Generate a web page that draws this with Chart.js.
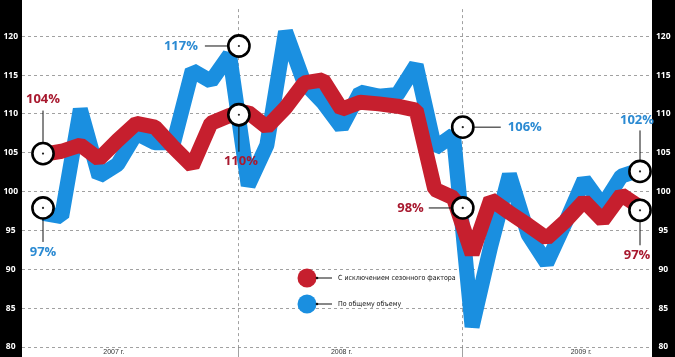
<!DOCTYPE html>
<html><head><meta charset="utf-8">
<script src="https://cdn.jsdelivr.net/npm/chart.js@4.4.1/dist/chart.umd.min.js"></script>
<style>html,body{margin:0;padding:0;background:#fff;}#wrap{width:675px;height:357px;}</style>
</head><body><div id="wrap"><canvas id="c" width="675" height="357"></canvas></div>
<script>
// Months Feb 2007 .. Oct 2009
const months = ['02.2007','03.2007','04.2007','05.2007','06.2007','07.2007','08.2007','09.2007','10.2007','11.2007','12.2007',
  '01.2008','02.2008','03.2008','04.2008','05.2008','06.2008','07.2008','08.2008','09.2008','10.2008','11.2008','12.2008',
  '01.2009','02.2009','03.2009','04.2009','05.2009','06.2009','07.2009','08.2009','09.2009','10.2009'];
const seasonalAdj = [104.8,105.2,106.0,104.2,106.6,108.8,108.3,105.7,103.3,108.8,109.8,
  110.2,108.3,110.8,114.0,114.4,110.6,111.5,111.3,111.0,110.5,100.3,99.2,
  92.0,99.0,97.3,95.7,94.0,96.2,98.8,96.3,99.6,98.0];
const totalVolume = [97.2,96.8,110.6,102.0,103.5,107.5,106.3,106.3,115.6,114.2,117.6,
  100.8,106.0,120.6,114.0,111.5,108.3,112.8,112.3,112.5,116.3,105.6,107.3,
  82.6,93.0,102.2,94.5,90.8,96.0,101.5,98.2,102.0,102.8];
const seriesNames = ['С исключением сезонного фактора','По общему объему'];
const yTicks = [80,85,90,95,100,105,110,115,120];
const yearLabels = ['2007 г.','2008 г.','2009 г.'];
const yearLabelPos = [3.8,16,28.85];
const yearDividers = [10.5,22.5];
// callouts: position in data units (month index, value)
const calloutText  = ['104%','97%','117%','110%','106%','98%','102%','97%'];
const calloutSeries= [0,1,1,0,1,0,1,0];
const calloutIndex = [0,0,10.5,10.5,22.5,22.5,32,32];
const calloutValue = [104.9,97.9,118.75,109.9,108.3,97.9,102.6,97.6];

const RED = '#c61f2e', BLUE = '#1a8fe0';
const LABEL_COL = ['#a8192f','#2b8ad2'];
// style of each callout: leader end (ex,ey) and text anchor (tx,ty,align)
const calloutStyle = [
  {ex:0,ey:-43,tx:0,ty:-54,align:'center'},
  {ex:0,ey:34,tx:0,ty:44,align:'center'},
  {ex:-34,ey:0,tx:-41,ty:0,align:'right'},
  {ex:0,ey:37,tx:2,ty:47,align:'center'},
  {ex:38,ey:0,tx:45,ty:0,align:'left'},
  {ex:-34,ey:0,tx:-39,ty:0,align:'right'},
  {ex:0,ey:-41,tx:-3,ty:-51,align:'center'},
  {ex:0,ey:35,tx:-3,ty:45,align:'center'}
];

const xTickPos = [...yearLabelPos, ...yearDividers].sort((a,b)=>a-b);
const xTickLabel = xTickPos.map(v => { const k = yearLabelPos.indexOf(v); return k >= 0 ? yearLabels[k] : ''; });

const bandPlugin = {
  id: 'bands',
  beforeDraw(chart) {
    const {ctx} = chart;
    ctx.save();
    ctx.fillStyle = '#000';
    ['y','y2'].forEach(id => { const s = chart.scales[id]; ctx.fillRect(s.left, 0, s.right - s.left, chart.height); });
    ctx.restore();
  }
};

const calloutPlugin = {
  id: 'callouts',
  afterDatasetsDraw(chart) {
    const {ctx, scales:{x, y}} = chart;
    ctx.save();
    const R = 10.6;
    calloutText.forEach((t, i) => {
      const cx = x.getPixelForValue(calloutIndex[i]);
      const cy = y.getPixelForValue(calloutValue[i]);
      const st = calloutStyle[i];
      ctx.strokeStyle = '#111'; ctx.lineWidth = 1;
      ctx.beginPath(); ctx.moveTo(cx, cy); ctx.lineTo(cx + st.ex, cy + st.ey); ctx.stroke();
      ctx.beginPath(); ctx.arc(cx, cy, R, 0, Math.PI * 2);
      ctx.fillStyle = '#fff'; ctx.fill();
      ctx.lineWidth = 2.6; ctx.strokeStyle = '#000'; ctx.stroke();
      ctx.fillStyle = '#222'; ctx.beginPath(); ctx.arc(cx, cy, 1.1, 0, Math.PI * 2); ctx.fill();
      ctx.font = 'bold 13px "Open Sans"';
      ctx.fillStyle = LABEL_COL[calloutSeries[i]];
      ctx.textAlign = st.align; ctx.textBaseline = 'middle';
      ctx.fillText(t, cx + st.tx, cy + st.ty);
    });
    ctx.restore();
  }
};

const legendPlugin = {
  id: 'customLegend',
  afterDatasetsDraw(chart) {
    const {ctx} = chart;
    ctx.save();
    chart.data.datasets.forEach((ds, i) => {
      const cx = 307, cy = 278 + i * 26;
      ctx.fillStyle = ds.borderColor;
      ctx.beginPath(); ctx.arc(cx, cy, 9.5, 0, Math.PI * 2); ctx.fill();
      ctx.strokeStyle = '#111'; ctx.lineWidth = 1;
      ctx.beginPath(); ctx.moveTo(cx + 10, cy); ctx.lineTo(cx + 25, cy); ctx.stroke();
      ctx.fillStyle = '#111'; ctx.beginPath(); ctx.arc(cx + 10, cy, 1.3, 0, Math.PI * 2); ctx.fill();
      ctx.font = '7px "Liberation Sans Narrow", "DejaVu Sans Condensed", sans-serif';
      ctx.textAlign = 'left'; ctx.textBaseline = 'middle';
      ctx.fillText(ds.label, cx + 31, cy + 0.5);
    });
    ctx.restore();
  }
};

const tickFont = {family: '"Open Sans"', weight: 'bold', size: 8.5};

new Chart(document.getElementById('c'), {
  type: 'line',
  data: {
    labels: months,
    datasets: [
      {label: seriesNames[0], data: seasonalAdj.map((v, i) => ({x: i, y: v})), borderColor: RED, backgroundColor: RED,
       borderWidth: 15, pointRadius: 0, tension: 0, borderJoinStyle: 'bevel', borderCapStyle: 'butt', fill: false, yAxisID: 'y'},
      {label: seriesNames[1], data: totalVolume.map((v, i) => ({x: i, y: v})), borderColor: BLUE, backgroundColor: BLUE,
       borderWidth: 15, pointRadius: 0, tension: 0, borderJoinStyle: 'bevel', borderCapStyle: 'butt', fill: false, yAxisID: 'y'}
    ]
  },
  options: {
    responsive: false, animation: false, devicePixelRatio: 1,
    layout: {padding: 0},
    plugins: {legend: {display: false}, tooltip: {enabled: false}},
    scales: {
      x: {
        type: 'linear', min: -1.126, max: 32.643, offset: false,
        afterBuildTicks: s => { s.ticks = xTickPos.map(v => ({value: v})); },
        afterFit: s => { s.height = 10; },
        ticks: {autoSkip: false, maxRotation: 0, padding: -9, color: '#333',
          font: {family: '"Liberation Sans Narrow", sans-serif', size: 7},
          callback: (v, i) => xTickLabel[i]},
        grid: {color: c => (xTickLabel[c.index] ? 'rgba(0,0,0,0)' : '#8a8a8a'), lineWidth: 0.8, tickLength: 10, drawTicks: true,
          tickColor: c => (xTickLabel[c.index] ? 'rgba(0,0,0,0)' : '#8a8a8a')},
        border: {display: false, dash: [3, 3]}
      },
      y: {
        position: 'left', min: 80, max: 123.5, display: true,
        afterBuildTicks: s => { s.ticks = yTicks.map(v => ({value: v})); },
        afterFit: s => { s.width = 22; },
        ticks: {color: '#fff', font: tickFont, crossAlign: 'center', padding: 4},
        grid: {color: '#8a8a8a', lineWidth: 0.8, drawTicks: false},
        border: {display: false, dash: [3, 3]}
      },
      y2: {
        position: 'right', min: 80, max: 123.5, display: true,
        afterBuildTicks: s => { s.ticks = yTicks.map(v => ({value: v})); },
        afterFit: s => { s.width = 23; },
        ticks: {color: '#fff', font: tickFont, crossAlign: 'center', padding: 4},
        grid: {display: false, drawTicks: false},
        border: {display: false}
      }
    }
  },
  plugins: [bandPlugin, calloutPlugin, legendPlugin]
});
</script>
</body></html>
